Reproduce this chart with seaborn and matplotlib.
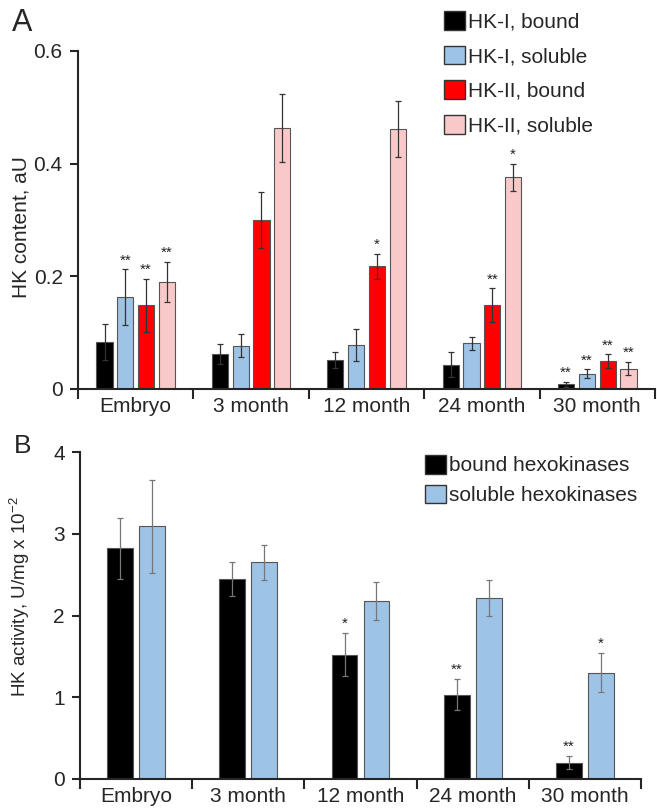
import numpy as np
import pandas as pd
import matplotlib
matplotlib.use("Agg")
import matplotlib.pyplot as plt
from matplotlib.ticker import FixedLocator
import seaborn as sns

# ==========================
# Data
# ==========================

ages = ["Embryo", "3 month", "12 month", "24 month", "30 month"]

# Panel A: HK content, aU
kinds_a = ["HK-I, bound", "HK-I, soluble", "HK-II, bound", "HK-II, soluble"]
hk1_bound = [0.084, 0.062, 0.052, 0.043, 0.008]
hk1_soluble = [0.163, 0.077, 0.078, 0.081, 0.027]
hk2_bound = [0.149, 0.300, 0.218, 0.149, 0.050]
hk2_soluble = [0.190, 0.463, 0.462, 0.376, 0.036]

hk1_bound_err = [0.032, 0.017, 0.014, 0.022, 0.005]
hk1_soluble_err = [0.050, 0.021, 0.028, 0.011, 0.008]
hk2_bound_err = [0.047, 0.050, 0.022, 0.030, 0.012]
hk2_soluble_err = [0.036, 0.060, 0.050, 0.024, 0.012]

stars_a = [
    ["", "", "", "", "**"],
    ["**", "", "", "", "**"],
    ["**", "", "*", "**", "**"],
    ["**", "", "", "*", "**"],
]

# Panel B: HK activity, U/mg x 10^-2
kinds_b = ["bound hexokinases", "soluble hexokinases"]
bound_act = [2.82, 2.45, 1.52, 1.03, 0.20]
soluble_act = [3.09, 2.65, 2.18, 2.22, 1.30]
bound_act_err = [0.37, 0.21, 0.26, 0.19, 0.08]
soluble_act_err = [0.57, 0.21, 0.23, 0.22, 0.24]

stars_b = [
    ["", "", "*", "**", "**"],
    ["", "", "", "", "*"],
]

colors_a = ["#000000", "#9DC3E6", "#FF0000", "#F9C9C9"]
colors_b = ["#000000", "#9DC3E6"]

# ==========================
# Long tables for seaborn
# ==========================

df_a = pd.DataFrame({
    "age": ages * 4,
    "kind": np.repeat(kinds_a, len(ages)),
    "value": hk1_bound + hk1_soluble + hk2_bound + hk2_soluble,
})
err_a = [hk1_bound_err, hk1_soluble_err, hk2_bound_err, hk2_soluble_err]
vals_a = [hk1_bound, hk1_soluble, hk2_bound, hk2_soluble]

df_b = pd.DataFrame({
    "age": ages * 2,
    "kind": np.repeat(kinds_b, len(ages)),
    "value": bound_act + soluble_act,
})
err_b = [bound_act_err, soluble_act_err]
vals_b = [bound_act, soluble_act]

# ==========================
# Style
# ==========================

sns.set_style("ticks")
plt.rcParams["font.family"] = ["Liberation Sans", "DejaVu Sans"]

W, H = 657, 809
fig = plt.figure(figsize=(W / 100, H / 100), dpi=100)

ax_a = fig.add_axes([78 / W, 1 - 389 / H, (655 - 78) / W, (389 - 51) / H])
ax_b = fig.add_axes([80 / W, 1 - 779 / H, (641 - 80) / W, (779 - 452) / H])


def draw_panel(ax, df, kinds, colors, vals, errs, stars, width, gap, ecolor, star_off):
    sns.barplot(
        data=df, x="age", y="value", hue="kind", hue_order=kinds,
        palette=colors, saturation=1, width=width, gap=gap, errorbar=None,
        edgecolor="#555555", linewidth=0.8, legend=False, ax=ax
    )
    bar_groups = list(ax.containers)
    for k, cont in enumerate(bar_groups):
        for i, bar in enumerate(cont.patches):
            xc = bar.get_x() + bar.get_width() / 2
            ax.errorbar(xc, vals[k][i], yerr=errs[k][i], fmt="none",
                        ecolor=ecolor, elinewidth=0.9, capsize=2, capthick=0.9)
            if stars[k][i]:
                ax.text(xc, vals[k][i] + errs[k][i] + star_off, stars[k][i],
                        ha="center", va="bottom", fontsize=11, color="#222222")

    ax.set_xlim(-0.5, 4.5)
    ax.set_xlabel("")
    ax.xaxis.set_minor_locator(FixedLocator(np.arange(-0.5, 5, 1.0)))
    ax.tick_params(axis="x", which="major", length=0, pad=6, labelsize=15)
    ax.tick_params(axis="x", which="minor", length=7, width=1.5, direction="out")
    ax.tick_params(axis="y", length=6, width=1.5, labelsize=15, pad=5)
    for s in ["top", "right"]:
        ax.spines[s].set_visible(False)
    for s in ["left", "bottom"]:
        ax.spines[s].set_linewidth(1.5)

    handles = [plt.Rectangle((0, 0), 1, 1, facecolor=c, edgecolor="#333333",
                             linewidth=1.0) for c in colors]
    return handles


# ==========================
# Panel A
# ==========================

h_a = draw_panel(ax_a, df_a, kinds_a, colors_a, vals_a, err_a, stars_a,
                 width=0.72, gap=0.22, ecolor="#333333", star_off=0.003)
ax_a.set_ylim(0, 0.6)
ax_a.set_yticks([0, 0.2, 0.4, 0.6])
ax_a.set_yticklabels(["0", "0.2", "0.4", "0.6"])
ax_a.set_ylabel("HK content, aU", fontsize=15)
ax_a.yaxis.set_label_coords(-0.083, 0.48)

ax_a.legend(h_a, kinds_a, loc="upper left", bbox_to_anchor=(444 / W, 1 - 11 / H),
            bbox_transform=fig.transFigure, frameon=False, fontsize=15,
            handlelength=1.0, handleheight=1.0, handletextpad=0.15,
            labelspacing=0.68, borderpad=0, borderaxespad=0)

# ==========================
# Panel B
# ==========================

h_b = draw_panel(ax_b, df_b, kinds_b, colors_b, vals_b, err_b, stars_b,
                 width=0.57, gap=0.19, ecolor="#777777", star_off=0.03)
ax_b.set_ylim(0, 4)
ax_b.set_yticks([0, 1, 2, 3, 4])
ax_b.set_ylabel("HK activity, U/mg x 10$^{\\mathregular{-2}}$", fontsize=13.5)
ax_b.yaxis.set_label_coords(-0.086, 0.557)

ax_b.legend(h_b, kinds_b, loc="upper left", bbox_to_anchor=(425 / W, 1 - 455 / H),
            bbox_transform=fig.transFigure, frameon=False, fontsize=15,
            handlelength=1.0, handleheight=1.0, handletextpad=0.15,
            labelspacing=0.45, borderpad=0, borderaxespad=0)

# Panel letters
fig.text(12 / W, 1 - 8 / H, "A", fontsize=22, va="top", ha="left")
fig.text(14 / W, 1 - 434 / H, "B", fontsize=19, va="top", ha="left")

fig.savefig("out.png", dpi=100)
plt.close(fig)
